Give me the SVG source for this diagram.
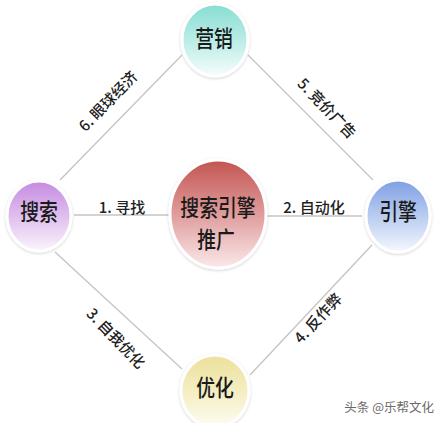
<svg xmlns="http://www.w3.org/2000/svg" width="445" height="423" viewBox="0 0 445 423">
<style>
.node-text{font-family:"Noto Sans CJK SC","Noto Sans",sans-serif;font-size:23px;font-weight:500;fill:#1a1a1a;text-anchor:middle}
.edge-text{font-family:"Noto Sans CJK SC","Noto Sans",sans-serif;font-size:15px;font-weight:500;fill:#222;text-anchor:middle}
.conn{stroke:#c4c4c4;stroke-width:1.3;fill:none}
.rim{stroke:#ffffff;stroke-width:3}
</style>
<defs>
<linearGradient id="gCyan" x1="0" y1="0" x2="0" y2="1"><stop offset="0" stop-color="#86ddd3"/><stop offset="0.55" stop-color="#bfeee8"/><stop offset="1" stop-color="#f6fdfc"/></linearGradient>
<linearGradient id="gPurple" x1="0" y1="0" x2="0" y2="1"><stop offset="0" stop-color="#c58ae0"/><stop offset="0.55" stop-color="#e2c4ef"/><stop offset="1" stop-color="#faf4fc"/></linearGradient>
<linearGradient id="gBlue" x1="0" y1="0" x2="0" y2="1"><stop offset="0" stop-color="#7e9fe2"/><stop offset="0.55" stop-color="#bfd0f2"/><stop offset="1" stop-color="#f5f8fe"/></linearGradient>
<linearGradient id="gYellow" x1="0" y1="0" x2="0" y2="1"><stop offset="0" stop-color="#ece09a"/><stop offset="0.55" stop-color="#f5efc6"/><stop offset="1" stop-color="#fdfcf1"/></linearGradient>
<linearGradient id="gRed" x1="0" y1="0" x2="0" y2="1"><stop offset="0" stop-color="#c25450"/><stop offset="0.5" stop-color="#df9c9c"/><stop offset="1" stop-color="#fbe9ea"/></linearGradient>
<filter id="sh" x="-20%" y="-20%" width="140%" height="140%"><feDropShadow dx="0" dy="1" stdDeviation="1.5" flood-color="#000" flood-opacity="0.18"/></filter>
</defs>
<rect width="445" height="423" fill="#ffffff"/>
<g id="connectors">
<line class="conn" x1="182" y1="55" x2="60" y2="180"/>
<line class="conn" x1="248" y1="55" x2="373" y2="180"/>
<line class="conn" x1="55" y1="252" x2="182" y2="369"/>
<line class="conn" x1="372" y1="245" x2="250" y2="375"/>
<line class="conn" x1="74" y1="215" x2="170" y2="215"/>
<line class="conn" x1="266" y1="216" x2="362" y2="216"/>
<text class="edge-text" transform="translate(112,105) rotate(-46)">6. 眼球经济</text>
<text class="edge-text" transform="translate(323,112) rotate(46)">5. 竞价广告</text>
<text class="edge-text" transform="translate(112,342) rotate(46)">3. 自我优化</text>
<text class="edge-text" transform="translate(322,322) rotate(-47)">4. 反作弊</text>
<text class="edge-text" x="122" y="213">1. 寻找</text>
<text class="edge-text" x="314" y="213">2. 自动化</text>
</g>
<g id="node-marketing">
<ellipse cx="215" cy="40" rx="33" ry="36" fill="url(#gCyan)" class="rim" filter="url(#sh)"/>
<text class="node-text" transform="translate(214,47) scale(0.82,1)">营销</text>
</g>
<g id="node-search">
<ellipse cx="39" cy="216" rx="32" ry="35" fill="url(#gPurple)" class="rim" filter="url(#sh)"/>
<text class="node-text" transform="translate(39,220) scale(0.82,1)">搜索</text>
</g>
<g id="node-engine">
<ellipse cx="398" cy="216" rx="32" ry="36" fill="url(#gBlue)" class="rim" filter="url(#sh)"/>
<text class="node-text" transform="translate(398,220) scale(0.82,1)">引擎</text>
</g>
<g id="node-center">
<ellipse cx="218" cy="214" rx="48" ry="54" fill="url(#gRed)" class="rim" filter="url(#sh)"/>
<text class="node-text" transform="translate(218,216) scale(0.82,1)">搜索引擎</text>
<text class="node-text" transform="translate(216,248) scale(0.82,1)">推广</text>
</g>
<g id="node-optimize">
<ellipse cx="215" cy="391" rx="34" ry="36" fill="url(#gYellow)" class="rim" filter="url(#sh)"/>
<text class="node-text" transform="translate(215,396) scale(0.82,1)">优化</text>
</g>
<text x="434" y="412" font-family="'Noto Sans CJK SC',sans-serif" font-size="12.5" fill="#6a6a6a" text-anchor="end">头条 @乐帮文化</text>
</svg>
